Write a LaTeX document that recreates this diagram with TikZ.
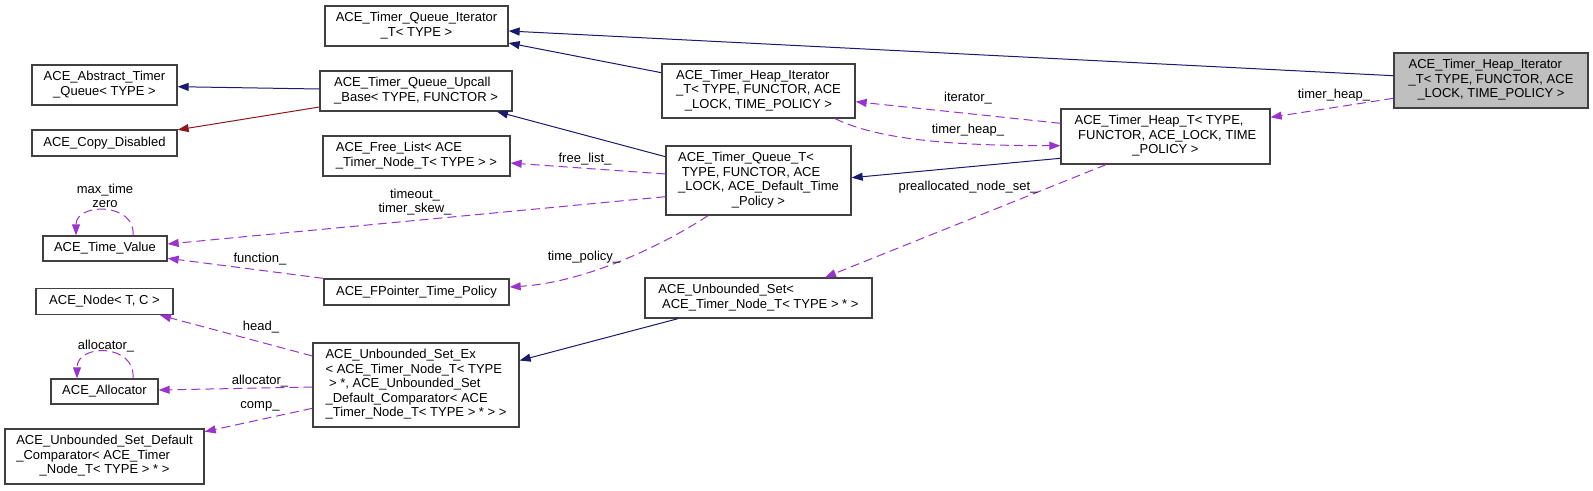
\documentclass[tikz,border=0pt]{standalone}
\usepackage{fontspec}
\setmainfont{Liberation Sans}
\usetikzlibrary{arrows.meta}
\definecolor{cblue}{HTML}{191970}
\definecolor{cred}{HTML}{8B1A1A}
\definecolor{cpur}{HTML}{9A32CD}
\definecolor{cbox}{HTML}{404040}
\definecolor{cfill}{HTML}{BFBFBF}
\newcommand{\mlab}[1]{\begin{tabular}{@{}l@{}}#1\end{tabular}}
\newcommand{\lastc}[1]{\multicolumn{1}{@{}c@{}}{#1}}
\tikzset{
  box/.style={draw=cbox, line width=1.3pt, fill=white, inner sep=0pt, font=\fontsize{13}{14.5}\selectfont},
  inh/.style={draw=cblue, line width=1pt, -{Triangle[length=11pt,width=8pt]}},
  inhr/.style={draw=cred, line width=1pt, -{Triangle[length=11pt,width=8pt]}},
  mem/.style={draw=cpur, line width=1pt, dash pattern=on 9pt off 5pt, -{Triangle[length=11pt,width=8pt]}},
  lbl/.style={font=\fontsize{13}{13.5}\selectfont, inner sep=0pt, align=center}
}
\begin{document}
\begin{tikzpicture}[x=1pt,y=-1pt]
\useasboundingbox (0,0) rectangle (1593,490);
% nodes
\node[box, minimum width=183pt, minimum height=40pt] (tqi) at (416.5,26) {\mlab{ACE\_Timer\_Queue\_Iterator\\\lastc{\_T< TYPE >}}};
\node[box, minimum width=145pt, minimum height=40pt] (atq) at (104.5,85) {\mlab{ACE\_Abstract\_Timer\\\lastc{\_Queue< TYPE >}}};
\node[box, minimum width=192pt, minimum height=40pt] (upb) at (416,91) {\mlab{ACE\_Timer\_Queue\_Upcall\\\lastc{\_Base< TYPE, FUNCTOR >}}};
\node[box, minimum width=145pt, minimum height=26pt] (cpd) at (104.5,143) {ACE\_Copy\_Disabled};
\node[box, minimum width=187pt, minimum height=40pt] (fl) at (416.5,156) {\mlab{ACE\_Free\_List< ACE\\\lastc{\_Timer\_Node\_T< TYPE > >}}};
\node[box, minimum width=124pt, minimum height=25pt] (tv) at (105,248.5) {ACE\_Time\_Value};
\node[box, minimum width=185pt, minimum height=26pt] (fp) at (416.5,292) {ACE\_FPointer\_Time\_Policy};
\node[box, minimum width=137pt, minimum height=26pt] (nd) at (104.5,301.5) {ACE\_Node< T, C >};
\node[box, minimum width=107pt, minimum height=25pt] (al) at (104.5,391.5) {ACE\_Allocator};
\node[box, minimum width=199pt, minimum height=55pt] (dc) at (104.5,456.5) {\mlab{ACE\_Unbounded\_Set\_Default\\\_Comparator< ACE\_Timer\\\lastc{\_Node\_T< TYPE > * >}}};
\node[box, minimum width=206pt, minimum height=84pt] (usx) at (416,385) {\mlab{ACE\_Unbounded\_Set\_Ex\\< ACE\_Timer\_Node\_T< TYPE\\\ > *, ACE\_Unbounded\_Set\\\_Default\_Comparator< ACE\\\lastc{\_Timer\_Node\_T< TYPE > * > >}}};
\node[box, minimum width=193pt, minimum height=54pt] (hit) at (758.5,91) {\mlab{ACE\_Timer\_Heap\_Iterator\\\_T< TYPE, FUNCTOR, ACE\\\lastc{\_LOCK, TIME\_POLICY >}}};
\node[box, minimum width=185pt, minimum height=69pt] (tqt) at (758.5,180.5) {\mlab{ACE\_Timer\_Queue\_T<\\\ TYPE, FUNCTOR, ACE\\\_LOCK, ACE\_Default\_Time\\\lastc{\_Policy >}}};
\node[box, minimum width=227pt, minimum height=40pt] (us) at (758.5,298) {\mlab{ACE\_Unbounded\_Set<\\\lastc{\ ACE\_Timer\_Node\_T< TYPE > * >}}};
\node[box, minimum width=209pt, minimum height=55pt] (th) at (1165.5,136.5) {\mlab{ACE\_Timer\_Heap\_T< TYPE,\\\ FUNCTOR, ACE\_LOCK, TIME\\\lastc{\_POLICY >}}};
\node[box, fill=cfill, minimum width=194pt, minimum height=55pt] (gi) at (1491,80.5) {\mlab{ACE\_Timer\_Heap\_Iterator\\\_T< TYPE, FUNCTOR, ACE\\\lastc{\_LOCK, TIME\_POLICY >}}};
% edges
\draw[inh] ([yshift=4.8pt]gi.west) -- ([yshift=-5pt]tqi.east);
\draw[inh] ([yshift=18.3pt]hit.west) -- ([yshift=-17pt]tqi.east);
\draw[inh] ([yshift=2pt]upb.west) -- ([yshift=-1.7pt]atq.east);
\draw[inhr] ([yshift=-16pt]upb.west) -- ([yshift=-0.5pt]cpd.north east);
\draw[inh] ([yshift=23.8pt]tqt.west) -- ([xshift=81pt]upb.south);
\draw[inh] ([yshift=-21.8pt]th.west) -- ([yshift=2.8pt]tqt.east);
\draw[mem] ([yshift=6.5pt]tqt.west) -- ([yshift=-7pt]fl.east);
\draw[mem] ([yshift=-16.2pt]tqt.west) -- ([yshift=4.5pt]tv.east);
\draw[mem] ([xshift=28pt]tv.north) .. controls +(3,-33) and +(0,-33) .. ([xshift=-29pt]tv.north);
\draw[mem] (fp.north west) -- ([yshift=-9.8pt]tv.east);
\draw[mem] ([xshift=-50.5pt]tqt.south) .. controls +(-38,25) and +(81,-5) .. ([yshift=5pt]fp.east);
\draw[mem] ([yshift=13.2pt]th.west) -- ([yshift=-10.7pt]hit.east);
\draw[mem] ([xshift=76.5pt]hit.south) .. controls +(45,22) and +(-101,0) .. ([yshift=-9.2pt]th.west);
\draw[mem] ([yshift=-17.8pt]gi.west) -- ([yshift=19.2pt]th.east);
\draw[mem] ([xshift=-59.5pt]th.south) -- ([xshift=66.5pt]us.north);
\draw[inh] ([xshift=-80.5pt]us.south) -- ([yshift=24.5pt]usx.east);
\draw[mem] ([yshift=29pt]usx.west) -- ([xshift=55.5pt]nd.south);
\draw[mem] ([yshift=-2pt]usx.west) -- ([yshift=1.5pt]al.east);
\draw[mem] ([xshift=28.5pt]al.north) .. controls +(3,-35) and +(0,-35) .. ([xshift=-27.5pt]al.north);
\draw[mem] ([yshift=-23.3pt]usx.west) -- ([yshift=24.8pt]dc.east);
% labels
\node[lbl] (l1) at (585,159) {free\_list\_};
\node[lbl] (l2) at (415,202) {timeout\_\\timer\_skew\_};
\node[lbl] (l3) at (105,196) {max\_time\\zero};
\node[lbl] (l4) at (260,259) {function\_};
\node[lbl] (l5) at (584,257.5) {time\_policy\_};
\node[lbl] (l6) at (968,98.3) {iterator\_};
\node[lbl] (l7) at (968,130) {timer\_heap\_};
\node[lbl] (l8) at (1334,95) {timer\_heap\_};
\node[lbl] (l9) at (968,186.7) {preallocated\_node\_set\_};
\node[lbl] (l10) at (261,326.7) {head\_};
\node[lbl] (l11) at (260,381) {allocator\_};
\node[lbl] (l12) at (106,345.7) {allocator\_};
\node[lbl] (l13) at (260,406) {comp\_};
\end{tikzpicture}
\end{document}
